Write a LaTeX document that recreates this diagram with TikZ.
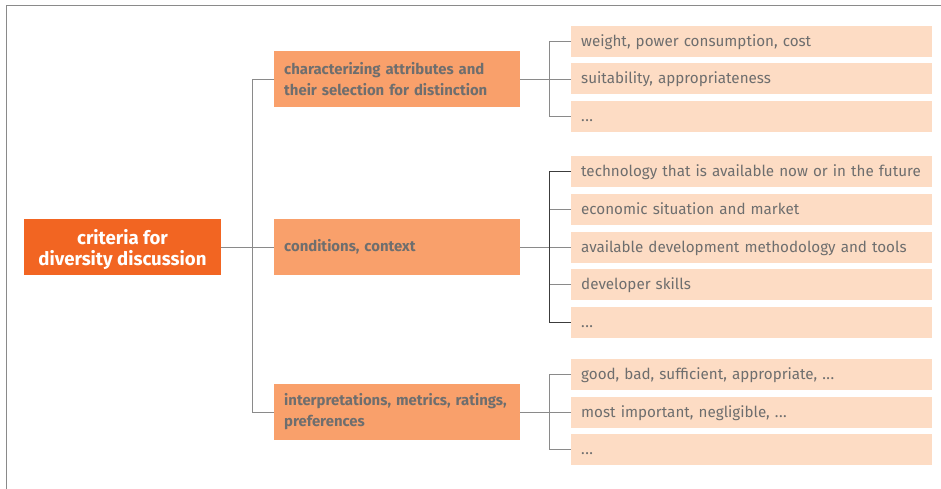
\documentclass[tikz,border=0pt]{standalone}
\usepackage{fontspec}
\setmainfont{Fira Sans}
\usepackage{tikz}
\usetikzlibrary{positioning}

\definecolor{rootorange}{HTML}{F26522}
\definecolor{catorange}{HTML}{F9A06B}
\definecolor{leafpeach}{HTML}{FDDCC4}
\definecolor{txtgray}{HTML}{6E6E6E}
\definecolor{linegray}{HTML}{8A8A8A}
\definecolor{linedark}{HTML}{3C3C3C}

\newcommand{\etcdots}{.\kern0.5pt.\kern0.5pt.}
\newcommand{\lowered}[1]{\raisebox{-3pt}[\height][\depth]{\parbox{190pt}{\centering #1}}}

\tikzset{
  rootbox/.style={fill=rootorange, text=white, font=\bfseries\fontsize{18.6}{21}\selectfont,
    minimum width=197pt, minimum height=56pt, inner sep=0pt},
  catbox/.style={fill=catorange, text=txtgray, font=\bfseries\fontsize{14.9}{21}\selectfont,
    minimum width=246pt, minimum height=56pt, text width=226pt, align=left, inner xsep=10pt},
  leafbox/.style={fill=leafpeach, text=txtgray, font=\fontsize{15.2}{18}\selectfont,
    minimum width=361pt, minimum height=31pt, text width=341pt, align=left, inner xsep=10pt, inner ysep=0pt,
    text height=13pt, text depth=3pt},
  conn/.style={draw=linegray, line width=0.9pt}
}

\begin{document}
\begin{tikzpicture}[x=1pt,y=-1pt]
  \useasboundingbox (0,0) rectangle (941,489);
  % frame
  \draw [linegray, line width=1.2pt] (6.5,489) -- (6.5,5.5) -- (941,5.5);

  \node [rootbox] (root) at (122.5,247) {\lowered{criteria for\\diversity discussion}};

  \node [catbox, anchor=west] (cat1) at (274,79) {characterizing attributes and\\their selection for distinction};
  \node [catbox, anchor=west] (cat2) at (274,247) {conditions, context};
  \node [catbox, anchor=west] (cat3) at (274,412) {interpretations, metrics, ratings,\\preferences};

  % leaves
  \foreach \txt [count=\i] in {{weight, power consumption, cost},{suitability, appropriateness},{\etcdots}}
    \node [leafbox, anchor=west] (a\i) at (571,41.2+37.8*\i-37.8) {\txt};
  \foreach \txt [count=\i] in {{technology that is available now or in the future},{economic situation and market},
      {available development methodology and tools},{developer skills},{\etcdots}}
    \node [leafbox, anchor=west] (b\i) at (571,171.4+37.8*\i-37.8) {\txt};
  \foreach \txt [count=\i] in {{good, bad, sufficient, appropriate, \etcdots},{most important, negligible, \etcdots},{\etcdots}}
    \node [leafbox, anchor=west] (c\i) at (571,374.2+37.8*\i-37.8) {\txt};

  % connectors
  \coordinate (trunk) at (252,0);
  \coordinate (brace) at (549,0);
  \draw [conn] (root.east) -- (cat2.west);
  \draw [conn] (cat1.west) -- (cat1.west -| trunk) -- (cat3.west -| trunk) -- (cat3.west);

  \draw [conn] (cat1.east) -- (cat1.east -| brace);
  \draw [conn] (a1.west) -- (a1.west -| brace) -- (a3.west -| brace) -- (a3.west);
  \draw [conn] (a2.west) -- (a2.west -| brace);

  \draw [conn] (cat2.east) -- (cat2.east -| brace);
  \foreach \i in {2,3,4}
    \draw [conn] (b\i.west) -- (b\i.west -| brace);
  \draw [conn, draw=linedark] (b1.west) -- (b1.west -| brace) -- (b5.west -| brace) -- (b5.west);

  \draw [conn] (cat3.east) -- (cat3.east -| brace);
  \draw [conn] (c1.west) -- (c1.west -| brace) -- (c3.west -| brace) -- (c3.west);
  \draw [conn] (c2.west) -- (c2.west -| brace);
\end{tikzpicture}
\end{document}
